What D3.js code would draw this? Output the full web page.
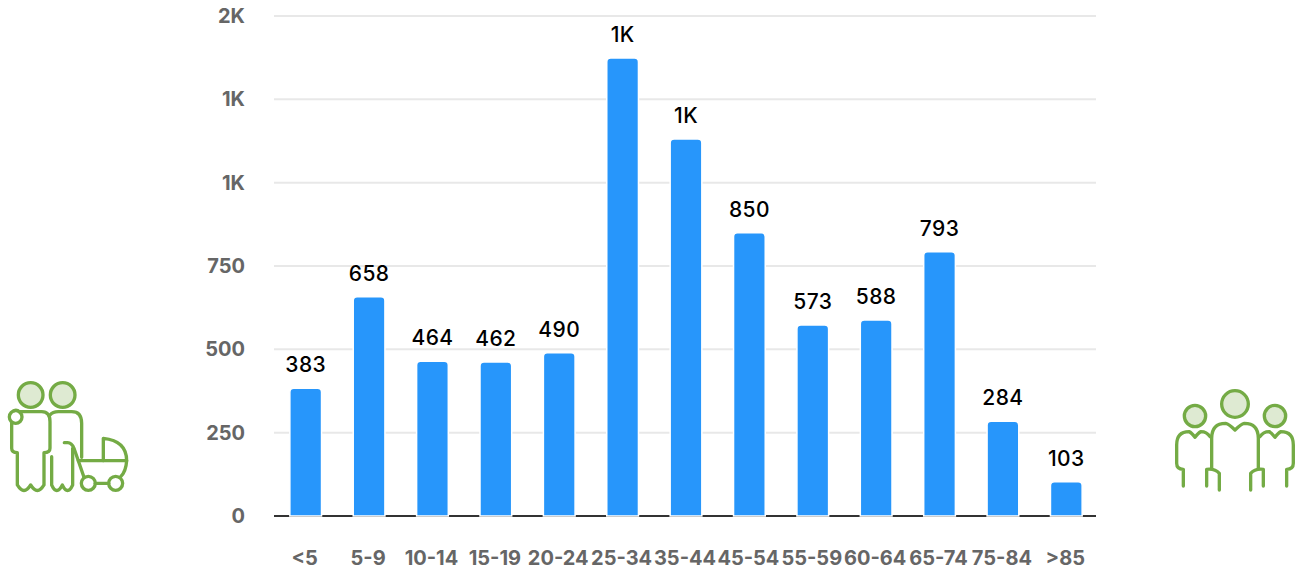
<!DOCTYPE html>
<html>
<head>
<meta charset="utf-8">
<script src="https://cdn.jsdelivr.net/npm/d3@7"></script>
<style>
  html, body { margin: 0; padding: 0; background: #fff; }
  svg { display: block; }
  text { font-family: Inter, "Noto Sans", sans-serif; }
  .tick-label { font-size: 20px; font-weight: 700; fill: #666; }
  .value-label { font-size: 21px; font-weight: 550; fill: #000; letter-spacing: 0.4px; }
  .icon path, .icon circle { stroke: #74ab45; stroke-width: 10; fill: none; stroke-linecap: round; stroke-linejoin: round; }
  .icon .head { fill: #deead2; }
</style>
</head>
<body>
<svg id="chart" width="1296" height="573"></svg>
<script>
const ageGroups = ['<5', '5-9', '10-14', '15-19', '20-24', '25-34', '35-44', '45-54', '55-59', '60-64', '65-74', '75-84', '>85'];
const counts = [383, 658, 464, 462, 490, 1374, 1131, 850, 573, 588, 793, 284, 103];
const yTicks = [0, 250, 500, 750, 1000, 1250, 1500];

const width = 1296;
const height = 573;
const margin = { top: 16, right: 200, bottom: 57, left: 274 };

const svg = d3.select('#chart');

// Bands run 2px past the grid on the right
const x = d3.scaleBand()
  .domain(ageGroups)
  .range([margin.left, width - margin.right + 2])
  .paddingInner(0.5)
  .paddingOuter(0.25);

const y = d3.scaleLinear()
  .domain([0, 1500])
  .range([height - margin.bottom, margin.top]);

// Thousands collapse to a rounded K, so 1250 reads 1K and 1500 reads 2K
const shortFormat = d => d >= 1000 ? `${Math.round(d / 1000)}K` : `${d}`;

// Horizontal grid
svg.append('g')
  .selectAll('line')
  .data(yTicks.filter(d => d > 0))
  .enter()
  .append('line')
  .attr('x1', margin.left)
  .attr('x2', width - margin.right)
  .attr('y1', d => y(d))
  .attr('y2', d => y(d))
  .attr('stroke', '#e8e8e8')
  .attr('stroke-width', 2);

// Y axis labels
const yAxis = svg.append('g')
  .attr('transform', `translate(${margin.left - 29},0)`)
  .call(d3.axisLeft(y).tickValues(yTicks).tickFormat(shortFormat).tickSize(0).tickPadding(0));
yAxis.select('.domain').remove();
yAxis.selectAll('text')
  .attr('class', 'tick-label')
  .attr('font-family', null)
  .attr('font-size', null);

// Baseline
svg.append('line')
  .attr('x1', margin.left)
  .attr('x2', width - margin.right)
  .attr('y1', y(0))
  .attr('y2', y(0))
  .attr('stroke', '#333')
  .attr('stroke-width', 2);

// Bars, rounded on top only, with a thin white outline
const barPath = d => {
  const r = 4;
  const x0 = x(d.group);
  const x1 = x0 + x.bandwidth();
  const top = y(d.value);
  const bottom = y(0);
  return `M${x0},${bottom}V${top + r}Q${x0},${top} ${x0 + r},${top}H${x1 - r}Q${x1},${top} ${x1},${top + r}V${bottom}Z`;
};

const rows = ageGroups.map((group, i) => ({ group, value: counts[i] }));

svg.append('g')
  .selectAll('path')
  .data(rows)
  .enter()
  .append('path')
  .attr('d', barPath)
  .attr('fill', '#2796fb')
  .attr('stroke', '#fff')
  .attr('stroke-width', 1.5);

// Value labels above the bars
svg.append('g')
  .selectAll('text')
  .data(rows)
  .enter()
  .append('text')
  .attr('class', 'value-label')
  .attr('x', d => x(d.group) + x.bandwidth() / 2)
  .attr('y', d => y(d.value) - 23.5)
  .attr('dy', '0.35em')
  .attr('text-anchor', 'middle')
  .text(d => shortFormat(d.value));

// X axis labels
const xAxis = svg.append('g')
  .attr('transform', `translate(-1,${y(0) + 42})`)
  .call(d3.axisBottom(x).tickSize(0).tickPadding(0));
xAxis.select('.domain').remove();
xAxis.selectAll('text')
  .attr('class', 'tick-label')
  .attr('font-family', null)
  .attr('font-size', null)
  .attr('dy', '0.35em');

// Couple with a pram, drawn on a 3x grid
const couple = svg.append('g')
  .attr('class', 'icon')
  .attr('transform', 'translate(0,370) scale(0.3333)');
couple.append('circle').attr('class', 'head').attr('cx', 92).attr('cy', 75).attr('r', 37);
couple.append('circle').attr('class', 'head').attr('cx', 188).attr('cy', 75).attr('r', 37);
couple.append('circle').attr('cx', 47).attr('cy', 141).attr('r', 19);
couple.append('path').attr('d', 'M42,122Q50,118 58,125H125Q150,125 150,155V235Q150,248 132,248V345Q112,378 92,345Q72,378 52,345V248Q35,248 35,235V160');
couple.append('path').attr('d', 'M150,135Q158,125 175,125H215Q245,125 245,160V262');
couple.append('path').attr('d', 'M155,260V345Q170,378 187,345Q203,378 218,345V235');
couple.append('path').attr('d', 'M193,218H203Q215,218 222,235L252,322');
couple.append('path').attr('d', 'M235,272H380');
couple.append('path').attr('d', 'M310,205Q380,212 380,272Q378,305 362,320M310,205V272');
couple.append('circle').attr('cx', 265).attr('cy', 340).attr('r', 21);
couple.append('circle').attr('cx', 347).attr('cy', 340).attr('r', 21);
couple.append('path').attr('d', 'M286,340H326');

// Group of three, same grid
const trio = svg.append('g')
  .attr('class', 'icon')
  .attr('transform', 'translate(1165,380) scale(0.3333)');
trio.append('circle').attr('class', 'head').attr('cx', 210).attr('cy', 72).attr('r', 40);
trio.append('circle').attr('class', 'head').attr('cx', 90).attr('cy', 108).attr('r', 32);
trio.append('circle').attr('class', 'head').attr('cx', 330).attr('cy', 108).attr('r', 32);
trio.append('path').attr('d', 'M140,265V175Q140,130 182,130Q192,132 210,150Q228,132 238,130Q280,130 280,175V265');
trio.append('path').attr('d', 'M285,170Q295,155 312,155Q320,158 330,172Q340,158 348,155Q385,155 385,195V250Q385,268 365,268V318');
trio.append('path').attr('d', 'M135,170Q125,155 108,155Q100,158 90,172Q80,158 72,155Q35,155 35,195V250Q35,268 55,268V318');
trio.append('path').attr('d', 'M125,318V268Q150,265 163,280V330');
trio.append('path').attr('d', 'M295,318V268Q270,265 257,280V330');
</script>
</body>
</html>
